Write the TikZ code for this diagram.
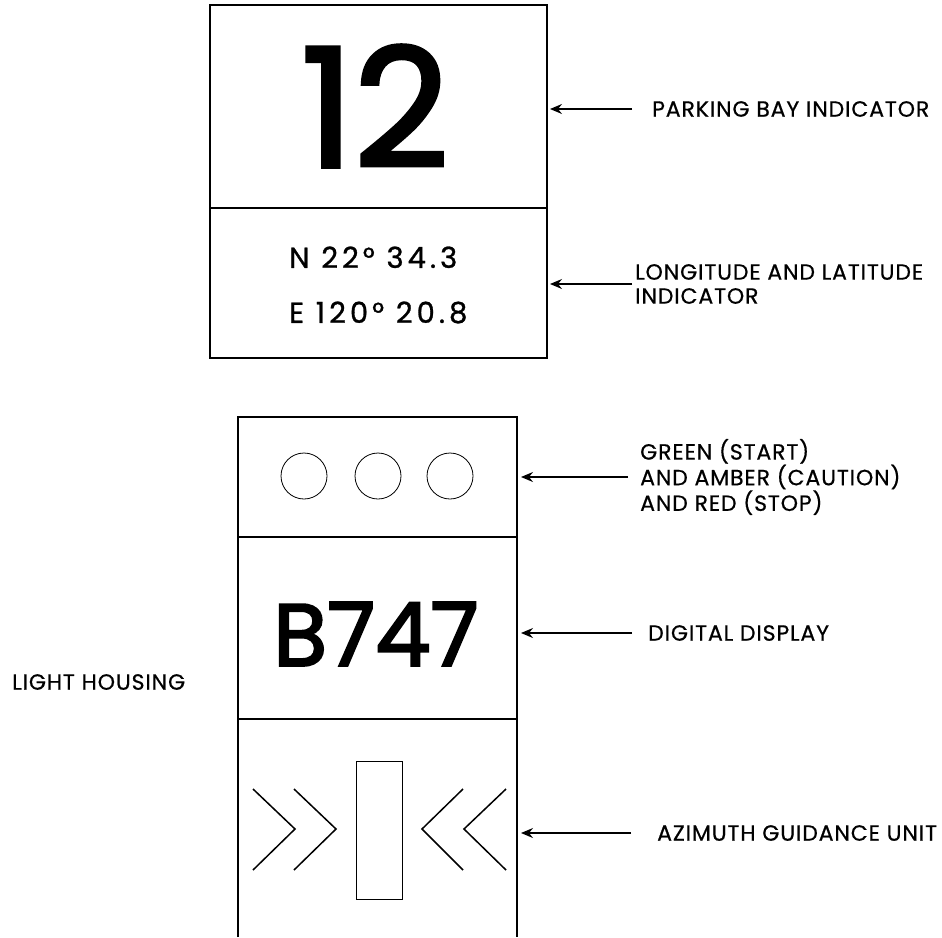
\documentclass[tikz,border=0pt]{standalone}
\usepackage{fontspec}
\setmainfont{Poppins}
\newfontfamily\labelfont{Poppins}[LetterSpace=4,FakeBold=0.6]
\newfontfamily\posfont{Poppins}[LetterSpace=14,FakeBold=1]
\newfontfamily\signfont{Poppins}[FakeBold=2.5]
\usetikzlibrary{arrows.meta}

\newcommand*{\signl}{210}
\newcommand*{\signr}{547}
\newcommand*{\housel}{238}
\newcommand*{\houser}{517}
\newcommand*{\housebot}{937}

\begin{document}
\begin{tikzpicture}
[
	x=1pt,
	y=-1pt,
	panel/.style={line width=1.6pt},
	lamp/.style={line width=0.8pt},
	chevron/.style={line width=1.5pt,line join=miter},
	pointer/.style={line width=1.4pt,-{Stealth[length=12pt,width=10pt,inset=4pt]}},
	label/.style={anchor=west,align=left,inner sep=0pt,font=\labelfont\fontsize{22}{24}\selectfont}
]
	\useasboundingbox (0,0) rectangle (942,937);

	% parking bay sign
	\draw[panel] (\signl,5) rectangle (\signr,358);
	\draw[panel] (\signl,208) -- (\signr,208);
	\node (bay) at (375,106) {\signfont\fontsize{165}{165}\selectfont 12};
	\node[anchor=west,align=left,inner sep=0pt,font=\posfont\fontsize{29}{55}\selectfont] (position) at (289,285) {N 22° 34.3\\E 120° 20.8};

	% light housing
	\draw[panel] (\housel,\housebot) -- (\housel,417) -- (\houser,417) -- (\houser,\housebot);
	\draw[panel] (\housel,537) -- (\houser,537);
	\draw[panel] (\housel,719) -- (\houser,719);

	% lamps
	\foreach \x in {304,378,450} {
		\draw[lamp] (\x,476) circle[radius=23];
	}

	% digital display
	\node (type) at (376,634) {\signfont\fontsize{88}{88}\selectfont B747};

	% azimuth guidance
	\draw[chevron] (253,789) -- (295,829) -- (253,870);
	\draw[chevron] (294,789) -- (336,829) -- (294,870);
	\draw[chevron] (463,789) -- (422,829) -- (463,870);
	\draw[chevron] (506,789) -- (464,829) -- (506,870);
	\draw[line width=1pt] (356,761) rectangle (402,899);

	% tips on the panel edges
	\coordinate (baytip) at (\signr+3,109);
	\coordinate (positiontip) at (\signr+3,284);
	\coordinate (lamptip) at (\houser+4,477);
	\coordinate (displaytip) at (\houser+4,633);
	\coordinate (azimuthtip) at (\houser+4,833);

	% labels
	\node[label] (baylabel) at (652,109) {PARKING BAY INDICATOR};
	\node[label] (positionlabel) at (635,284) {LONGITUDE AND LATITUDE\\INDICATOR};
	\node[label] (lamplabel) at (640,477) {GREEN (START)\\AND AMBER (CAUTION)\\AND RED (STOP)};
	\node[label] (displaylabel) at (648,633) {DIGITAL DISPLAY};
	\node[label] (azimuthlabel) at (657,833) {AZIMUTH GUIDANCE UNIT};
	\node[label] (housing) at (12,682) {LIGHT HOUSING};

	% pointers
	\draw[pointer,shorten <=20pt] (baylabel.west) -- (baytip);
	\draw[pointer,shorten <=3pt] (positionlabel.west) -- (positiontip);
	\draw[pointer,shorten <=12pt] (lamplabel.west) -- (lamptip);
	\draw[pointer,shorten <=16pt] (displaylabel.west) -- (displaytip);
	\draw[pointer,shorten <=26pt] (azimuthlabel.west) -- (azimuthtip);

\end{tikzpicture}
\end{document}
